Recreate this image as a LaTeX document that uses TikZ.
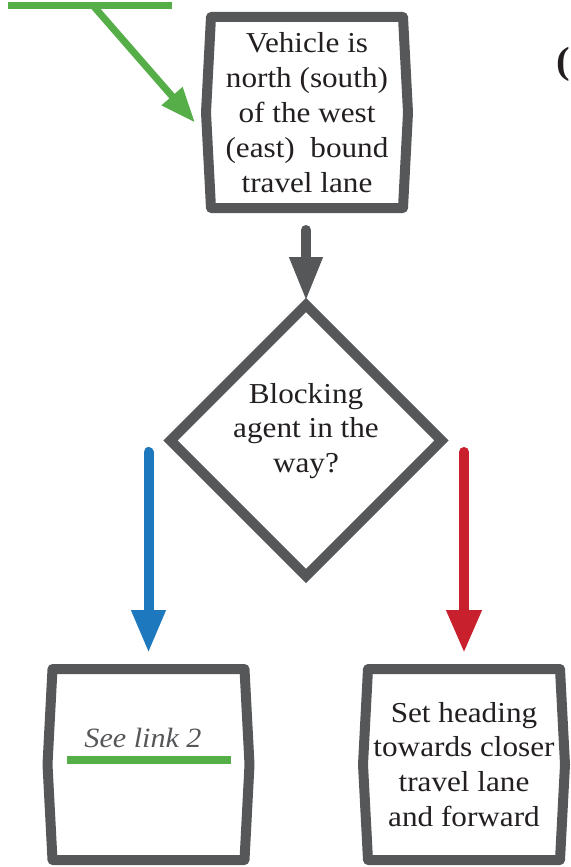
\documentclass[tikz,border=0pt]{standalone}
\usepackage{fontspec}
\setmainfont{Liberation Serif}[FakeStretch=1.08]
\usetikzlibrary{arrows.meta,shapes.geometric,calc}
\definecolor{boxgray}{RGB}{85,87,89}
\definecolor{txtblack}{RGB}{35,31,32}
\definecolor{linkgreen}{RGB}{85,174,72}
\definecolor{yesblue}{RGB}{30,120,190}
\definecolor{nored}{RGB}{200,32,44}
\newcommand\drawbulge[1]{\draw[boxline] (#1.north west) -- (#1.north east) -- ([xshift=5bp]#1.east) -- (#1.south east) -- (#1.south west) -- ([xshift=-5bp]#1.west) -- cycle;}
\tikzset{
  flowtext/.style={font=\fontsize{29}{35}\selectfont, text=txtblack, align=center, inner sep=0pt},
  procbox/.style={flowtext, minimum width=192bp, minimum height=191bp, outer sep=0pt},
  boxline/.style={draw=boxgray, line width=10bp, line join=round},
  decision/.style={diamond, aspect=1, draw=boxgray, line width=10bp, line join=miter, minimum width=271bp, minimum height=271bp, inner sep=0pt, outer sep=0pt},
  grayarrow/.style={draw=boxgray, line width=10bp, line cap=round, -{Triangle[length=44bp,width=31bp]}},
  bluearrow/.style={draw=yesblue, line width=10bp, line cap=round, -{Triangle[length=43bp,width=32bp]}},
  redarrow/.style={draw=nored, line width=10bp, line cap=round, -{Triangle[length=43bp,width=33bp]}},
  greenline/.style={draw=linkgreen, line width=7bp},
  greenarrow/.style={draw=linkgreen, line width=7bp, -{Triangle[length=35bp,width=26bp]}},
}
\begin{document}
\begin{tikzpicture}[x=1bp,y=-1bp]
\useasboundingbox (0,0) rectangle (571,867);
% nodes
\node[procbox] (v) at (307,112.5) {Vehicle is\\north (south)\\of the west\\(east)~ bound\\travel lane};
\drawbulge{v}
\node[decision] (d) at (306,440.5) {};
\node[flowtext] (dq) at (306,431) {Blocking\\agent in the\\way?};
\node[procbox] (lb) at (148.5,764.5) {};
\drawbulge{lb}
\node[procbox] (rb) at (464,764.5) {Set heading\\towards closer\\travel lane\\and forward};
\drawbulge{rb}
\node[font=\fontsize{28}{35}\selectfont\itshape, text=boxgray, anchor=base, inner sep=0pt] (seelink) at (143,747) {See link 2};
\node[font=\fontsize{38}{40}\selectfont\bfseries, text=txtblack, inner sep=0pt] (paren) at (563,64) {(};
% connectors
\coordinate (gl) at (8,5.5);
\coordinate (gr) at (172,5.5);
\coordinate (gj) at (93,5.5);
\draw[greenline] (gl) -- (gr);
\draw[greenarrow] (gj) -- ([xshift=-16bp,yshift=-10bp]v.west);
\coordinate (ll) at (67,760);
\coordinate (lr) at (231,760);
\draw[greenline, line width=8bp] (ll) -- (lr);
\draw[grayarrow] ([yshift=-22bp]v.south -| d.north) -- ([yshift=4bp]d.north);
\coordinate (bs) at ([yshift=217bp]lb.north);
\coordinate (rs) at ([yshift=217bp]rb.north);
\draw[bluearrow] (bs) -- ([yshift=16bp]lb.north);
\draw[redarrow] (rs) -- ([yshift=16bp]rb.north);
\end{tikzpicture}
\end{document}
